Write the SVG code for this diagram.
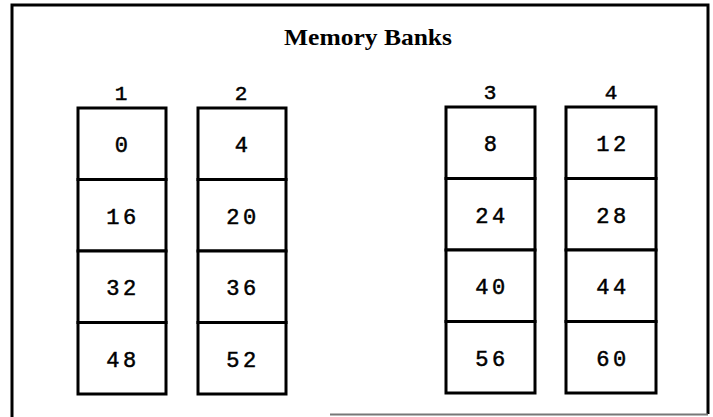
<svg xmlns="http://www.w3.org/2000/svg" width="713" height="417" viewBox="0 0 713 417">
<style>
.cell{fill:#fff;stroke:#000;stroke-width:3}
.num{font-family:"Liberation Mono","Courier New",monospace;font-size:22px;letter-spacing:3.5px;text-anchor:middle;fill:#000;stroke:#000;stroke-width:0.5}
.lab{font-family:"Liberation Mono","Courier New",monospace;font-size:21px;text-anchor:middle;fill:#000;stroke:#000;stroke-width:0.5}
.title{font-family:"Liberation Serif","Times New Roman",serif;font-size:24px;font-weight:bold;text-anchor:middle;fill:#000}
</style>
<rect width="713" height="417" fill="#fff"/>
<g id="frame" fill="none">
<path d="M12 417 V5 H708 V414" stroke="#000" stroke-width="3"/>
<path d="M330 414.5 H708" stroke="#777" stroke-width="2"/>
</g>
<text id="title" class="title" x="368" y="45" textLength="168" lengthAdjust="spacingAndGlyphs">Memory Banks</text>
<g id="bank1">
<text class="lab" x="121" y="100">1</text>
<rect class="cell" x="78" y="108" width="88" height="71.5"/>
<rect class="cell" x="78" y="179.5" width="88" height="71.5"/>
<rect class="cell" x="78" y="251" width="88" height="71.5"/>
<rect class="cell" x="78" y="322.5" width="88" height="71.5"/>
<text class="num" x="123" y="152">0</text>
<text class="num" x="123" y="223.5">16</text>
<text class="num" x="123" y="295">32</text>
<text class="num" x="123" y="366.5">48</text>
</g>
<g id="bank2">
<text class="lab" x="241" y="100">2</text>
<rect class="cell" x="198" y="108" width="88" height="71.5"/>
<rect class="cell" x="198" y="179.5" width="88" height="71.5"/>
<rect class="cell" x="198" y="251" width="88" height="71.5"/>
<rect class="cell" x="198" y="322.5" width="88" height="71.5"/>
<text class="num" x="243" y="152">4</text>
<text class="num" x="243" y="223.5">20</text>
<text class="num" x="243" y="295">36</text>
<text class="num" x="243" y="366.5">52</text>
</g>
<g id="bank3">
<text class="lab" x="490" y="99">3</text>
<rect class="cell" x="446" y="107" width="89" height="71.5"/>
<rect class="cell" x="446" y="178.5" width="89" height="71.5"/>
<rect class="cell" x="446" y="250" width="89" height="71.5"/>
<rect class="cell" x="446" y="321.5" width="89" height="71.5"/>
<text class="num" x="492" y="151">8</text>
<text class="num" x="492" y="222.5">24</text>
<text class="num" x="492" y="294">40</text>
<text class="num" x="492" y="365.5">56</text>
</g>
<g id="bank4">
<text class="lab" x="611" y="99">4</text>
<rect class="cell" x="566" y="107" width="90" height="71.5"/>
<rect class="cell" x="566" y="178.5" width="90" height="71.5"/>
<rect class="cell" x="566" y="250" width="90" height="71.5"/>
<rect class="cell" x="566" y="321.5" width="90" height="71.5"/>
<text class="num" x="613" y="151">12</text>
<text class="num" x="613" y="222.5">28</text>
<text class="num" x="613" y="294">44</text>
<text class="num" x="613" y="365.5">60</text>
</g>
<g id="connectors"/>
</svg>
